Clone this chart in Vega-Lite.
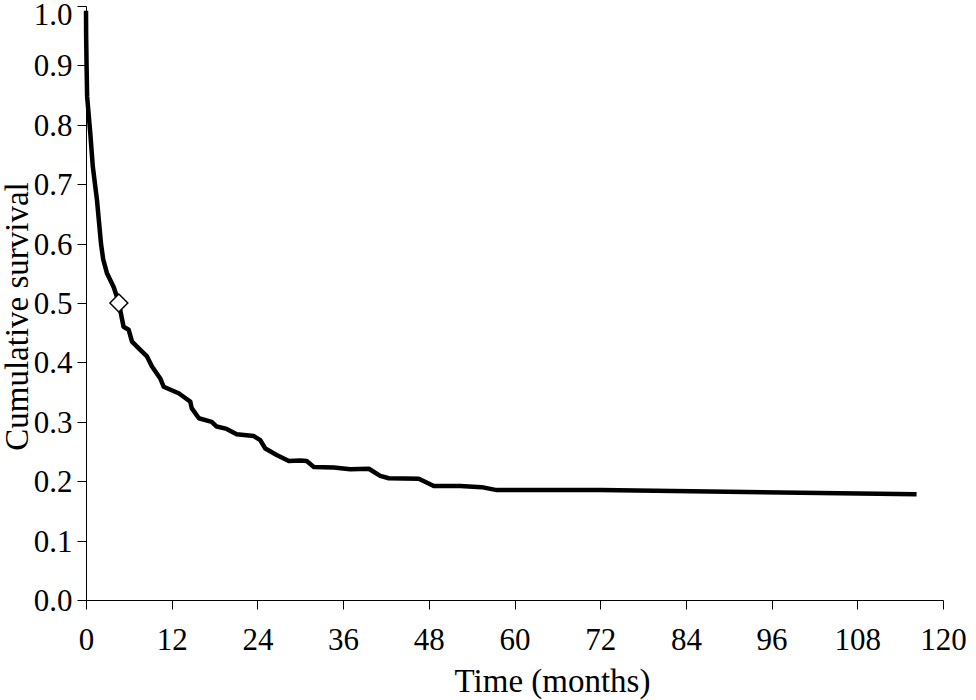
{
  "$schema": "https://vega.github.io/schema/vega-lite/v6.json",
  "width": 857,
  "height": 594,
  "autosize": {"type": "none"},
  "padding": {"left": 86, "top": 6, "right": 33, "bottom": 100},
  "background": "white",
  "config": {
    "view": {"stroke": null},
    "font": "Liberation Serif",
    "axis": {
      "domainColor": "black",
      "tickColor": "black",
      "labelColor": "black",
      "titleColor": "black",
      "grid": false,
      "tickSize": 9,
      "labelFont": "Liberation Serif",
      "titleFont": "Liberation Serif",
      "labelFontSize": 31,
      "titleFontSize": 33,
      "titleFontWeight": "normal"
    }
  },
  "datasets": {
    "curve": [
      {"month": 0, "survival": 0.992},
      {"month": 0.02, "survival": 0.95},
      {"month": 0.08, "survival": 0.9},
      {"month": 0.16, "survival": 0.847},
      {"month": 0.6, "survival": 0.786},
      {"month": 0.95, "survival": 0.73},
      {"month": 1.54, "survival": 0.673},
      {"month": 2.1, "survival": 0.6},
      {"month": 2.4, "survival": 0.574},
      {"month": 2.94, "survival": 0.55},
      {"month": 3.87, "survival": 0.527},
      {"month": 4.56, "survival": 0.502},
      {"month": 5.26, "survival": 0.46},
      {"month": 5.97, "survival": 0.455},
      {"month": 6.44, "survival": 0.435},
      {"month": 7.6, "survival": 0.421},
      {"month": 8.54, "survival": 0.41},
      {"month": 9.24, "survival": 0.393},
      {"month": 10.4, "survival": 0.373},
      {"month": 10.87, "survival": 0.359},
      {"month": 12.97, "survival": 0.348},
      {"month": 13.9, "survival": 0.34},
      {"month": 14.6, "survival": 0.334},
      {"month": 14.8, "survival": 0.323},
      {"month": 15.8, "survival": 0.306},
      {"month": 17.6, "survival": 0.3},
      {"month": 18.3, "survival": 0.292},
      {"month": 19.7, "survival": 0.288},
      {"month": 21.1, "survival": 0.279},
      {"month": 23.5, "survival": 0.276},
      {"month": 24.4, "survival": 0.269},
      {"month": 25.1, "survival": 0.255},
      {"month": 26.7, "survival": 0.244},
      {"month": 28.4, "survival": 0.234},
      {"month": 30.0, "survival": 0.235},
      {"month": 30.9, "survival": 0.234},
      {"month": 31.9, "survival": 0.224},
      {"month": 34.7, "survival": 0.223},
      {"month": 37.0, "survival": 0.22},
      {"month": 39.6, "survival": 0.221},
      {"month": 41.2, "survival": 0.209},
      {"month": 42.4, "survival": 0.205},
      {"month": 46.6, "survival": 0.204},
      {"month": 48.7, "survival": 0.192},
      {"month": 52.4, "survival": 0.192},
      {"month": 55.4, "survival": 0.19},
      {"month": 57.5, "survival": 0.185},
      {"month": 72.0, "survival": 0.185},
      {"month": 116.3, "survival": 0.178}
    ],
    "median": [
      {"month": 4.6, "survival": 0.5}
    ]
  },
  "layer": [
    {
      "data": {"name": "curve"},
      "mark": {"type": "line", "color": "black", "strokeWidth": 4.5, "strokeJoin": "round"},
      "encoding": {
        "x": {
          "field": "month",
          "type": "quantitative",
          "scale": {"domain": [0, 120], "nice": false},
          "axis": {
            "title": "Time (months)",
            "values": [0, 12, 24, 36, 48, 60, 72, 84, 96, 108, 120],
            "labelBaseline": "alphabetic",
            "labelPadding": 40,
            "labelFlush": false,
            "labelOverlap": false,
            "titleBaseline": "alphabetic",
            "titleX": 466,
            "titleY": 91,
            "titleAnchor": null
          }
        },
        "y": {
          "field": "survival",
          "type": "quantitative",
          "scale": {"domain": [0, 1], "nice": false},
          "axis": {
            "title": "Cumulative survival",
            "values": [0, 0.1, 0.2, 0.3, 0.4, 0.5, 0.6, 0.7, 0.8, 0.9, 1.0],
            "format": ".1f",
            "labelPadding": 5,
            "labelOverlap": false,
            "labelOffset": {"condition": {"test": "datum.value == 1", "value": 9}, "value": 1.5},
            "titleBaseline": "alphabetic",
            "titleX": -59,
            "titleY": 310
          }
        }
      }
    },
    {
      "data": {"name": "median"},
      "mark": {"type": "point", "shape": "diamond", "filled": true, "fill": "white", "stroke": "black", "strokeWidth": 1.5, "size": 320, "opacity": 1},
      "encoding": {
        "x": {"field": "month", "type": "quantitative"},
        "y": {"field": "survival", "type": "quantitative"}
      }
    }
  ]
}
